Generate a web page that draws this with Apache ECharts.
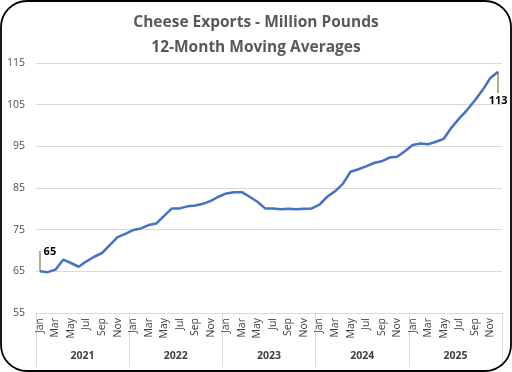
<!DOCTYPE html>
<html>
<head>
<meta charset="utf-8">
<script src="https://cdn.jsdelivr.net/npm/echarts@6/dist/echarts.min.js"></script>
<style>
html,body{margin:0;padding:0;background:#fff;}
#c{width:512px;height:372px;}
</style>
</head>
<body>
<div id="c"></div>
<script>
const titleLines = ["Cheese Exports - Million Pounds", "12-Month Moving Averages"];
const years = ["2021", "2022", "2023", "2024", "2025"];
const monthNames = ["Jan","Feb","Mar","Apr","May","Jun","Jul","Aug","Sep","Oct","Nov","Dec"];
const values2021 = [65.0, 64.8, 65.4, 67.8, 67.0, 66.1, 67.4, 68.5, 69.4, 71.3, 73.2, 74.0];
const values2022 = [74.9, 75.3, 76.1, 76.5, 78.3, 80.1, 80.1, 80.6, 80.8, 81.2, 81.9, 82.9];
const values2023 = [83.7, 84.0, 84.0, 82.9, 81.7, 80.1, 80.1, 79.9, 80.0, 79.9, 80.0, 80.1];
const values2024 = [81.0, 82.9, 84.2, 86.0, 88.9, 89.5, 90.2, 91.0, 91.4, 92.3, 92.5, 93.8];
const values2025 = [95.3, 95.7, 95.5, 96.1, 96.8, 99.5, 101.7, 103.7, 106.0, 108.5, 111.4, 112.9];
const yTicks = [55, 65, 75, 85, 95, 105, 115];

const allValues = [].concat(values2021, values2022, values2023, values2024, values2025);
const categories = [];
years.forEach(y => monthNames.forEach(m => categories.push(m + " " + y)));

const last = allValues.length - 1;
const labelStyle = {fontWeight: 'bold', fontSize: 11, color: '#000', fontFamily: 'Open Sans'};

const chart = echarts.init(document.getElementById('c'), null, {renderer: 'canvas'});
chart.setOption({
  animation: false,
  backgroundColor: '#fff',
  title: {
    text: titleLines.join('\n'),
    left: 'center',
    top: 5,
    textStyle: {fontFamily: 'Open Sans', fontSize: 15.5, fontWeight: 'bold', color: '#595959', lineHeight: 25}
  },
  graphic: [{
    type: 'rect', silent: true, z: 100,
    shape: {x: 1, y: 1, width: 510, height: 370, r: 26},
    style: {fill: 'none', stroke: '#000', lineWidth: 1.8}
  }],
  grid: {left: 36, right: 10, top: 63, bottom: 59, containLabel: false},
  xAxis: [{
    type: 'category',
    data: categories,
    boundaryGap: true,
    axisLine: {show: true, lineStyle: {color: '#d9d9d9', width: 1}},
    axisTick: {show: false},
    axisLabel: {
      interval: 1, rotate: 90, margin: 5, fontSize: 10.5, color: '#404040', fontFamily: 'Open Sans',
      formatter: v => v.split(' ')[0]
    },
    splitLine: {show: false}
  }, {
    type: 'category',
    data: years,
    position: 'bottom',
    boundaryGap: true,
    axisLine: {show: false},
    axisTick: {show: true, length: 54, lineStyle: {color: '#d9d9d9', width: 1}},
    axisLabel: {margin: 38, fontSize: 10.5, fontWeight: 'bold', color: '#404040', fontFamily: 'Open Sans'},
    splitLine: {show: false}
  }],
  yAxis: {
    type: 'value',
    min: yTicks[0],
    max: yTicks[yTicks.length - 1],
    interval: yTicks[1] - yTicks[0],
    axisLine: {show: false},
    axisTick: {show: false},
    axisLabel: {margin: 11, fontSize: 10.5, color: '#505050', fontFamily: 'Open Sans'},
    splitLine: {show: true, lineStyle: {color: '#d9d9d9', width: 1}}
  },
  series: [{
    type: 'line',
    xAxisIndex: 0,
    data: allValues,
    showSymbol: false,
    symbol: 'none',
    lineStyle: {color: '#4472C4', width: 2.5},
    itemStyle: {color: '#4472C4'},
    z: 5,
    markLine: {
      silent: true,
      symbol: 'none',
      label: {show: false},
      lineStyle: {color: '#a38f5f', width: 1.5, type: 'solid'},
      data: [
        [{coord: [categories[0], allValues[0]]}, {coord: [categories[0], allValues[0] + 4.9]}],
        [{coord: [categories[last], allValues[last]]}, {coord: [categories[last], allValues[last] - 5.1]}]
      ]
    },
    markPoint: {
      silent: true,
      symbol: 'circle',
      symbolSize: 0,
      data: [
        {coord: [categories[0], allValues[0]], value: Math.round(allValues[0]),
          label: Object.assign({show: true, position: 'top', offset: [10, -9], formatter: '{c}'}, labelStyle)},
        {coord: [categories[last], allValues[last]], value: Math.round(allValues[last]),
          label: Object.assign({show: true, position: 'bottom', offset: [0, 19], formatter: '{c}'}, labelStyle)}
      ]
    }
  }]
});
</script>
</body>
</html>
